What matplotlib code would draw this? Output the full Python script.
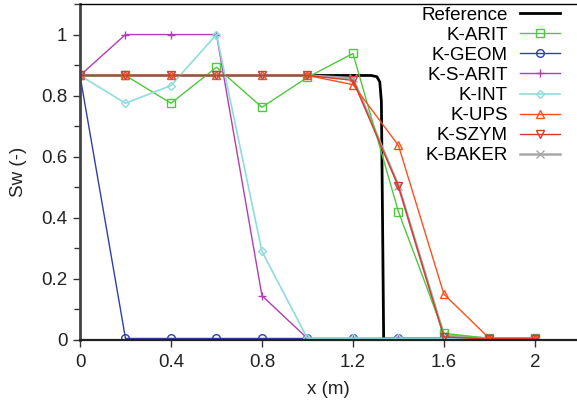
import matplotlib
matplotlib.use("Agg")
import matplotlib.pyplot as plt
from matplotlib.ticker import MultipleLocator

plt.rcParams["font.family"] = ["Liberation Sans", "DejaVu Sans"]

# ── data ─────────────────────────────────────────────────────────────────────
x = [0.0, 0.2, 0.4, 0.6, 0.8, 1.0, 1.2, 1.4, 1.6, 1.8, 2.0]

ref_x = [0.0, 1.28, 1.305, 1.318, 1.325, 1.33, 1.335, 1.34, 2.0]
ref_y = [0.866, 0.866, 0.862, 0.845, 0.78, 0.40, 0.005, 0.003, 0.003]

k_arit   = [0.866, 0.866, 0.775, 0.893, 0.762, 0.860, 0.938, 0.420, 0.022, 0.005, 0.005]
k_geom   = [0.866, 0.005, 0.005, 0.005, 0.005, 0.005, 0.005, 0.005, 0.005, 0.005, 0.005]
k_s_arit = [0.866, 1.000, 1.000, 1.000, 0.145, 0.005, 0.005, 0.005, 0.005, 0.005, 0.005]
k_int    = [0.866, 0.775, 0.833, 1.000, 0.290, 0.005, 0.005, 0.005, 0.005, 0.005, 0.005]
k_ups    = [0.866, 0.866, 0.866, 0.866, 0.866, 0.866, 0.836, 0.637, 0.150, 0.005, 0.005]
k_szym   = [0.866, 0.866, 0.866, 0.866, 0.866, 0.866, 0.850, 0.503, 0.010, 0.003, 0.003]
k_baker  = [0.866, 0.866, 0.866, 0.866, 0.866, 0.866, 0.857, 0.505, 0.015, 0.005, 0.005]

SERIES = [
    ("K-ARIT",   k_arit,   "#4ec93e", "s"),
    ("K-GEOM",   k_geom,   "#2e3fb0", "o"),
    ("K-S-ARIT", k_s_arit, "#b43cb4", "+"),
    ("K-INT",    k_int,    "#8edcdc", "D"),
    ("K-UPS",    k_ups,    "#ff4e1e", "^"),
    ("K-SZYM",   k_szym,   "#d83a2e", "v"),
    ("K-BAKER",  k_baker,  "#a8a8a8", "x"),
]

# ── plot ──────────────────────────────────────────────────────────────────────
fig = plt.figure(figsize=(5.77, 4.05), dpi=100)
ax = fig.add_axes([80 / 577, 1 - 340 / 405, 1 - 80 / 577, 336 / 405])

ax.plot(ref_x, ref_y, color="black", lw=2.0, label="Reference", zorder=1.5)
for label, vals, col, mk in SERIES:
    ms = 4.5 if mk == "D" else 5.5
    lw, z = 1.0, 2.2
    if label == "K-BAKER":
        lw, z = 1.8, 1.9
    elif label == "K-INT":
        lw = 1.2
    ax.plot(x, vals, color=col, lw=lw, marker=mk, ms=ms, mfc="none",
            mec=col, mew=1.0, label=label, zorder=z)

ax.set_xlim(0, 2.185)
ax.set_ylim(0, 1.1)
ax.set_xticks([0, 0.4, 0.8, 1.2, 1.6, 2.0])
ax.set_xticklabels(["0", "0.4", "0.8", "1.2", "1.6", "2"])
ax.set_yticks([0, 0.2, 0.4, 0.6, 0.8, 1.0])
ax.set_yticklabels(["0", "0.2", "0.4", "0.6", "0.8", "1"])
ax.yaxis.set_minor_locator(MultipleLocator(0.1))

ax.tick_params(axis="both", which="major", direction="out", length=5,
               width=1.0, labelsize=13.5, colors="#333333", labelcolor="#222222")
ax.tick_params(axis="y", which="minor", direction="out", length=4,
               width=1.0, colors="#333333")
ax.tick_params(axis="x", pad=5)
ax.tick_params(axis="y", pad=4)

ax.spines["left"].set_linewidth(2.0)
ax.spines["left"].set_color("#444444")
ax.spines["bottom"].set_linewidth(1.6)
ax.spines["bottom"].set_color("#222222")
ax.spines["top"].set_linewidth(1.0)
ax.spines["right"].set_visible(False)

ax.set_xlabel("x (m)", fontsize=13.5, color="#222222", labelpad=7)
ax.set_ylabel("Sw (-)", fontsize=13.5, color="#222222", labelpad=10)

leg = ax.legend(loc="upper right", frameon=False, markerfirst=False,
                fontsize=13.5, labelspacing=0.16, handlelength=2.1,
                handletextpad=0.65, borderaxespad=0.0,
                bbox_to_anchor=(0.98, 1.015))

fig.savefig("out.png", dpi=100, facecolor="white")
